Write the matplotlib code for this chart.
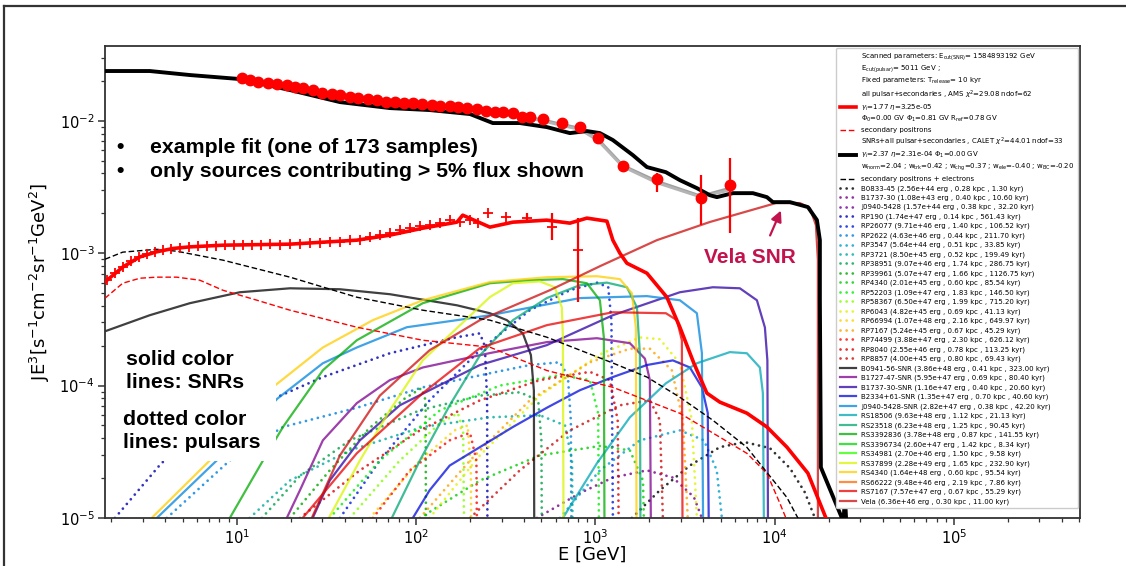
import numpy as np
import matplotlib
matplotlib.use("Agg")
import matplotlib.pyplot as plt
from matplotlib.lines import Line2D
from matplotlib.patches import Rectangle

# ---------------- data ----------------
# total e+ + e- data (red circles)
tot_E = [10.7, 11.8, 13.1, 14.9, 16.7, 19.0, 21.1, 23.3, 26.5, 29.8, 33.9, 37.6, 42.7, 47.3, 53.8,
         60.4, 67.8, 76.2, 85.5, 96, 108, 122, 136, 154, 171, 192, 218, 245, 275, 305, 347, 389,
         432, 509, 650, 820, 1033, 1422, 2203, 3882, 5623]
tot_F = [0.0210, 0.0203, 0.0196, 0.0193, 0.0189, 0.0186, 0.0180, 0.0177, 0.0171, 0.0162, 0.0159,
         0.0156, 0.0151, 0.0149, 0.0146, 0.0143, 0.0138, 0.0138, 0.0136, 0.0136, 0.0134, 0.0131,
         0.0129, 0.0129, 0.0127, 0.0125, 0.0122, 0.0118, 0.0116, 0.0116, 0.0114, 0.0107, 0.0107,
         0.0103, 0.0096, 0.0090, 0.0074, 0.00455, 0.00362, 0.00261, 0.00327]
tot_err_lo = [0] * 36 + [0.0004, 0.00043, 0.00073, 0.00098, 0.00185]
tot_err_hi = [0] * 36 + [0.0004, 0.00035, 0.00041, 0.00128, 0.00195]

# positron data (red plus markers)
pos_E = [1.88, 2.08, 2.31, 2.56, 2.84, 3.15, 3.49, 3.87, 4.28, 4.81, 5.40, 6.06, 6.80, 7.64, 8.58,
         9.62, 10.8, 12.1, 13.6, 15.3, 17.4, 19.8, 22.5, 25.5, 29.0, 33.0, 37.6, 42.7, 48.6, 55.2,
         62.8, 71.4, 81.2, 92.3, 105, 119, 136, 154, 175, 200, 221, 251, 317, 415, 572, 798]
pos_F = [6.25e-4, 7.06e-4, 7.84e-4, 8.70e-4, 9.33e-4, 9.83e-4, 1.018e-3, 1.054e-3, 1.08e-3, 1.10e-3,
         1.11e-3, 1.13e-3, 1.13e-3, 1.14e-3, 1.15e-3, 1.15e-3, 1.15e-3, 1.16e-3, 1.15e-3, 1.17e-3,
         1.16e-3, 1.17e-3, 1.18e-3, 1.19e-3, 1.19e-3, 1.21e-3, 1.22e-3, 1.25e-3, 1.26e-3, 1.32e-3,
         1.37e-3, 1.42e-3, 1.49e-3, 1.54e-3, 1.60e-3, 1.63e-3, 1.69e-3, 1.78e-3, 1.71e-3, 1.78e-3,
         1.69e-3, 2.0e-3, 1.87e-3, 1.84e-3, 1.57e-3, 1.05e-3]
pos_err_lo = [0] * 43 + [0.00015, 0.00032, 0.00062]
pos_err_hi = [0] * 43 + [0.00016, 0.00043, 0.00079]

# model: all pulsars + secondaries (red thick)
pmod_E = [1.84, 2.32, 2.88, 3.56, 4.42, 5.47, 8.36, 19.8, 46.7, 71.4, 109, 169, 182, 258, 347, 536,
          721, 897, 1160, 1252, 1370, 1499, 1939, 2506, 2961, 3544, 4188, 4949, 7002, 9054, 11705,
          15330, 19560]
pmod_F = [6.07e-4, 7.88e-4, 9.37e-4, 1.023e-3, 1.086e-3, 1.116e-3, 1.149e-3, 1.17e-3, 1.254e-3,
          1.368e-3, 1.545e-3, 1.715e-3, 1.937e-3, 1.573e-3, 1.715e-3, 1.776e-3, 1.686e-3, 1.840e-3,
          1.745e-3, 1.254e-3, 1.0e-3, 8.40e-4, 7.06e-4, 4.65e-4, 2.76e-4, 1.475e-4, 8.77e-5,
          7.50e-5, 6.19e-5, 4.87e-5, 3.43e-5, 2.18e-5, 9.6e-6]

# secondary positrons (red dashed)
secp_E = [1.84, 2.31, 2.88, 3.57, 4.62, 6.22, 8.36, 12.9, 19.8, 46.7, 109, 258, 536, 1253, 2958,
          7000, 9060, 10700, 11700, 13000]
secp_F = [4.57e-4, 5.93e-4, 6.47e-4, 6.59e-4, 6.59e-4, 6.25e-4, 5.25e-4, 4.42e-4, 3.71e-4, 2.76e-4,
          2.20e-4, 1.95e-4, 1.30e-4, 9.7e-5, 6.18e-5, 3.08e-5, 2.17e-5, 1.29e-5, 9.6e-6, 6e-6]

# secondary positrons + electrons (black dashed)
sece_E = [1.84, 2.31, 3.57, 4.62, 8.36, 19.8, 46.7, 109, 258, 536, 1253, 1939, 2958, 4524, 7000,
          11700, 13700, 15000]
sece_F = [9.0e-4, 1.018e-3, 1.07e-3, 1.035e-3, 8.86e-4, 6.59e-4, 4.65e-4, 3.71e-4, 3.12e-4,
          2.32e-4, 1.48e-4, 1.16e-4, 8.17e-5, 5.47e-5, 3.42e-5, 1.43e-5, 9.6e-6, 7e-6]

# model: SNRs + all pulsars + secondaries (black thick)
tmod_E = [1.84, 3.27, 5.47, 10.4, 19.8, 37.6, 71.4, 119, 200, 268, 379, 536, 721, 897, 1060, 1252,
          1619, 1939, 2474, 2961, 3683, 4352, 4763, 5850, 7560, 9054, 9777, 12165, 15330, 17210,
          17880, 17880, 18110, 23730, 24040, 24650, 25300]
tmod_F = [0.02375, 0.02375, 0.02215, 0.02066, 0.01706, 0.01384, 0.01247, 0.01205, 0.01124, 0.00961,
          0.00961, 0.00896, 0.00807, 0.00836, 0.00807, 0.00715, 0.00550, 0.00447, 0.00409, 0.00356,
          0.00310, 0.00274, 0.00265, 0.00284, 0.00284, 0.00265, 0.00243, 0.00243, 0.00223, 0.00178,
          0.001254, 4.41e-4, 2.41e-5, 1e-5, 7.4e-6, 1.49e-5, 7.4e-6]

# grey model band at the data points
band_E = [200, 300, 430, 520, 650, 820, 1033, 1422, 2203, 3882, 5623]
band1_F = [0.0122, 0.0114, 0.0106, 0.0101, 0.0094, 0.0088, 0.0073, 0.0046, 0.0035, 0.0027, 0.0031]
band2_F = [0.0120, 0.0112, 0.0104, 0.0099, 0.0092, 0.0086, 0.0071, 0.0045, 0.0034, 0.00265, 0.0030]

# ---- pulsars (dotted) ----
psr_names = ["B0833-45", "B1737-30", "J0940-5428", "RP190", "RP26077", "RP2622", "RP3547", "RP3721",
             "RP38951", "RP39961", "RP4340", "RP52203", "RP58367", "RP6043", "RP66994", "RP7167",
             "RP74499", "RP8040", "RP8857"]
psr_energy = [2.56e44, 1.08e43, 1.57e44, 1.74e47, 9.71e46, 4.63e46, 5.64e44, 8.50e45, 9.07e46,
              5.07e47, 2.01e45, 1.09e47, 6.50e47, 4.82e45, 1.07e48, 5.24e45, 3.88e47, 2.55e46, 4.00e45]
psr_dist = [0.28, 0.40, 0.38, 0.14, 1.40, 0.44, 0.51, 0.52, 1.74, 1.66, 0.60, 1.83, 1.99, 0.69, 2.16,
            0.67, 2.30, 0.78, 0.80]
psr_age = [1.30, 10.60, 32.20, 561.43, 106.52, 211.70, 33.85, 199.49, 286.75, 1126.75, 85.54, 146.50,
           715.20, 41.13, 649.97, 45.29, 626.12, 113.25, 69.43]

B0833_E = [1598, 2290, 3367, 4949, 6822, 9408, 12165, 14750, 16770, 17430]
B0833_F = [1.0e-5, 1.62e-5, 2.49e-5, 3.43e-5, 3.74e-5, 3.37e-5, 2.38e-5, 1.56e-5, 1.0e-5, 6.8e-6]
B1737p_E = [472, 819, 1252, 1939, 2706, 3544, 3929, 4188]
B1737p_F = [1.0e-5, 1.54e-5, 2.02e-5, 2.29e-5, 2.02e-5, 1.44e-5, 1.0e-5, 7.4e-6]
J0940p_E = []
J0940p_F = []
RP190_E = [2.09, 3.82, 16.7, 30.2, 71.4, 169, 227, 242, 249, 251]
RP190_F = [1.0e-5, 2.62e-5, 8.16e-5, 1.16e-4, 1.755e-4, 2.32e-4, 2.48e-4, 1.98e-4, 7.7e-5, 1e-6]
RP26077_E = [37.6, 62.8, 119, 227, 431, 721, 1020, 1180, 1229, 1268]
RP26077_F = [1.0e-5, 2.72e-5, 7.74e-5, 1.85e-4, 3.71e-4, 5.25e-4, 5.99e-4, 5.53e-4, 3.12e-4, 1e-6]
RP2622_E = [4.07, 9.14, 18.1, 46.7, 109, 258, 431, 634, 702, 730, 740]
RP2622_F = [1.0e-5, 2.72e-5, 4.87e-5, 6.8e-5, 9.7e-5, 1.239e-4, 1.43e-4, 1.50e-4, 1.19e-4, 5.47e-5, 1e-6]
RP3547_E = [634, 1060, 1771, 2961, 4035, 4755, 5079, 5143]
RP3547_F = [1.0e-5, 2.29e-5, 3.86e-5, 4.59e-5, 3.86e-5, 2.29e-5, 1.0e-5, 1e-6]
RP3721_E = [11.8, 19.8, 42.7, 109, 258, 490, 677, 741, 755]
RP3721_F = [1.0e-5, 1.92e-5, 3.24e-5, 4.87e-5, 5.76e-5, 5.97e-5, 5.0e-5, 2.72e-5, 1e-6]
RP38951_E = [13.8, 22.5, 42.7, 105, 227, 379, 480, 500, 507]
RP38951_F = [1.0e-5, 2.08e-5, 3.86e-5, 6.51e-5, 8.4e-5, 8.9e-5, 7.74e-5, 3.86e-5, 1e-6]
RP39961_E = [19.8, 33.0, 55.2, 86.6, 107, 113, 114]
RP39961_F = [1.0e-5, 2.29e-5, 4.8e-5, 8.0e-5, 9.55e-5, 7.74e-5, 1e-6]
RP4340_E = [105, 227, 490, 1060, 1558, 1843, 1939]
RP4340_F = [1.0e-5, 1.92e-5, 2.97e-5, 3.5e-5, 3.24e-5, 1.92e-5, 1e-6]
RP52203_E = [33.0, 62.8, 136, 293, 634, 932, 1036, 1060]
RP52203_F = [1.0e-5, 2.72e-5, 6.51e-5, 1.0e-4, 1.2e-4, 1.1e-4, 6.19e-5, 1e-6]
RP58367_E = [42.7, 81.2, 136, 171, 183, 188]
RP58367_F = [1.0e-5, 2.72e-5, 5.2e-5, 6.19e-5, 4.59e-5, 1e-6]
RP6043_E = [119, 227, 490, 1060, 1771, 2290, 2961, 3454, 3683, 3724]
RP6043_F = [1.0e-5, 2.97e-5, 8.4e-5, 1.72e-4, 2.31e-4, 2.24e-4, 1.47e-4, 5.47e-5, 1.0e-5, 1e-6]
RP66994_E = [55.2, 105, 164, 194, 202, 205]
RP66994_F = [1.0e-5, 2.72e-5, 4.59e-5, 5.0e-5, 2.29e-5, 1e-6]
RP7167p_E = [105, 200, 431, 932, 1558, 2014, 2670, 3079, 3276, 3320]
RP7167p_F = [1.0e-5, 2.72e-5, 7.74e-5, 1.5e-4, 1.9e-4, 1.9e-4, 1.305e-4, 5.47e-5, 1.0e-5, 1e-6]
RP74499_E = [57.4, 92.3, 154, 200, 217, 221]
RP74499_F = [1.0e-5, 2.29e-5, 3.86e-5, 4.4e-5, 2.72e-5, 1e-6]
RP8040_E = [22.5, 48.6, 105, 227, 490, 932, 1205, 1332, 1370]
RP8040_F = [1.0e-5, 2.29e-5, 4.59e-5, 7.74e-5, 1.1e-4, 1.27e-4, 1.1e-4, 5.47e-5, 1e-6]
RP8857_E = [200, 379, 721, 1370, 2014, 2290, 2380, 2408]
RP8857_F = [1.0e-5, 2.29e-5, 4.59e-5, 7.1e-5, 7.74e-5, 5.47e-5, 1.0e-5, 1e-6]

# ---- SNRs (solid) ----
snr_names = ["B0941-56-SNR", "B1727-47-SNR", "B1737-30-SNR", "B2334+61-SNR", "J0940-5428-SNR",
             "RS18506", "RS23518", "RS3392836", "RS3396734", "RS34981", "RS37899", "RS4340",
             "RS66222", "RS7167", "Vela"]
snr_energy = [3.86e48, 5.95e47, 1.16e47, 1.35e47, 2.82e47, 9.63e48, 6.23e48, 3.78e48, 2.60e47,
              2.70e46, 2.28e49, 1.64e48, 9.48e46, 7.57e47, 6.36e46]
snr_dist = [0.41, 0.69, 0.40, 0.70, 0.38, 1.12, 1.25, 0.87, 1.42, 1.50, 1.65, 0.60, 2.19, 0.67, 0.30]
snr_age = [323.00, 80.40, 20.60, 40.60, 42.20, 21.13, 90.45, 141.55, 8.34, 9.58, 232.90, 95.54,
           7.86, 55.29, 11.00]

B0941_E = [1.84, 3.27, 5.47, 10.4, 19.8, 37.6, 71.4, 169, 258, 321, 394, 437, 454, 458]
B0941_F = [2.57e-4, 3.40e-4, 4.19e-4, 5.07e-4, 5.43e-4, 5.34e-4, 4.90e-4, 4.04e-4, 3.52e-4, 3.12e-4,
           2.48e-4, 1.70e-4, 9.2e-5, 1e-6]
B1727_E = [19.0, 22.5, 30.2, 46.7, 71.4, 109, 258, 536, 1020, 1558, 1889, 2014, 2063]
B1727_F = [1.0e-5, 1.62e-5, 3.86e-5, 7.37e-5, 1.10e-4, 1.37e-4, 1.76e-4, 2.13e-4, 2.28e-4, 2.09e-4,
           1.60e-4, 1.10e-4, 1e-6]
B1737s_E = [26.5, 33.0, 48.6, 81.2, 154, 227, 536, 1252, 2961, 4524, 6398, 7962, 8824, 9110, 9233]
B1737s_F = [1.0e-5, 1.92e-5, 3.86e-5, 7.1e-5, 1.10e-4, 1.43e-4, 2.02e-4, 3.40e-4, 5.07e-4, 5.53e-4,
            5.43e-4, 4.41e-4, 2.75e-4, 1.55e-4, 1e-6]
B2334_E = [95.9, 119, 154, 227, 347, 536, 819, 1252, 1939, 2706, 3367, 3929, 4237, 4352]
B2334_F = [1.0e-5, 1.62e-5, 2.49e-5, 3.43e-5, 4.87e-5, 6.8e-5, 9.22e-5, 1.16e-4, 1.43e-4, 1.55e-4,
           1.37e-4, 9.7e-5, 6.2e-5, 1e-6]
J0940s_E = [3.58, 7.73, 16.9, 30.2, 46.7, 88.8, 169, 258, 819, 1939, 2961, 3683, 3929, 4035]
J0940s_F = [1.0e-5, 2.72e-5, 8.0e-5, 1.475e-4, 1.94e-4, 2.76e-4, 3.12e-4, 3.40e-4, 4.58e-4, 4.74e-4,
            4.41e-4, 3.52e-4, 1.76e-4, 1e-6]
RS18506_E = [659, 1020, 1558, 2474, 3683, 5627, 7002, 8272, 8598, 8824]
RS18506_F = [1.0e-5, 2.59e-5, 5.76e-5, 1.04e-4, 1.475e-4, 1.79e-4, 1.755e-4, 1.37e-4, 8.77e-5, 1e-6]
RS23518_E = [73.2, 105, 154, 227, 347, 536, 819, 1160, 1499, 1706, 1771, 1794]
RS23518_F = [1.0e-5, 2.72e-5, 7.1e-5, 1.69e-4, 3.12e-4, 4.58e-4, 5.73e-4, 5.99e-4, 5.53e-4, 3.90e-4,
             1.755e-4, 1e-6]
RS3392836_E = [9.14, 14.0, 18.1, 30.2, 46.7, 109, 258, 431, 659, 897, 1060, 1115, 1130]
RS3392836_F = [1.0e-5, 2.72e-5, 4.87e-5, 1.305e-4, 2.20e-4, 4.19e-4, 5.93e-4, 6.25e-4, 6.37e-4,
               5.93e-4, 4.41e-4, 2.32e-4, 1e-6]
RS3396734_E = []
RS3396734_F = []
RS34981_E = []
RS34981_F = []
RS37899_E = [32.2, 48.6, 71.4, 109, 258, 347, 490, 594, 650, 659, 668]
RS37899_F = [9.7e-6, 2.72e-5, 6.51e-5, 1.553e-4, 4.66e-4, 5.93e-4, 6.12e-4, 5.53e-4, 3.90e-4,
             2.32e-4, 1e-6]
RS4340_E = [3.40, 7.07, 16.3, 30.2, 57.4, 109, 258, 536, 1020, 1370, 1598, 1683, 1706]
RS4340_F = [1.02e-5, 2.72e-5, 1.0e-4, 1.94e-4, 3.12e-4, 4.41e-4, 6.05e-4, 6.58e-4, 6.70e-4, 6.37e-4,
            4.98e-4, 2.75e-4, 1e-6]
RS66222_E = []
RS66222_F = []
RS7167s_E = [23.3, 46.7, 109, 227, 536, 1252, 2474, 2849, 3038, 3079]
RS7167s_F = [1.0e-5, 3.08e-5, 8.77e-5, 1.92e-4, 2.86e-4, 3.58e-4, 3.52e-4, 3.12e-4, 2.20e-4, 1e-6]
Vela_E = [26.2, 37.6, 62.8, 119, 227, 557, 1060, 2203, 4352, 10163, 13834, 15730, 16990, 17430, 17430]
Vela_F = [1.0e-5, 2.97e-5, 8.4e-5, 1.85e-4, 3.12e-4, 5.25e-4, 7.97e-4, 1.254e-3, 1.72e-3, 2.39e-3,
          2.39e-3, 2.19e-3, 1.63e-3, 8.85e-4, 1e-6]

psr_curves = [(B0833_E, B0833_F), (B1737p_E, B1737p_F), (J0940p_E, J0940p_F), (RP190_E, RP190_F),
              (RP26077_E, RP26077_F), (RP2622_E, RP2622_F), (RP3547_E, RP3547_F),
              (RP3721_E, RP3721_F), (RP38951_E, RP38951_F), (RP39961_E, RP39961_F),
              (RP4340_E, RP4340_F), (RP52203_E, RP52203_F), (RP58367_E, RP58367_F),
              (RP6043_E, RP6043_F), (RP66994_E, RP66994_F), (RP7167p_E, RP7167p_F),
              (RP74499_E, RP74499_F), (RP8040_E, RP8040_F), (RP8857_E, RP8857_F)]
snr_curves = [(B0941_E, B0941_F), (B1727_E, B1727_F), (B1737s_E, B1737s_F), (B2334_E, B2334_F),
              (J0940s_E, J0940s_F), (RS18506_E, RS18506_F), (RS23518_E, RS23518_F),
              (RS3392836_E, RS3392836_F), (RS3396734_E, RS3396734_F), (RS34981_E, RS34981_F),
              (RS37899_E, RS37899_F), (RS4340_E, RS4340_F), (RS66222_E, RS66222_F),
              (RS7167s_E, RS7167s_F), (Vela_E, Vela_F)]

# ---------------- figure ----------------
W, H = 1126, 566
fig = plt.figure(figsize=(W / 100, H / 100), dpi=100)
ax = fig.add_axes([105 / W, 1 - 518 / H, (1080 - 105) / W, (518 - 46) / H])
ax.set_xscale('log')
ax.set_yscale('log')
ax.set_xlim(1.84, 5.05e5)
ax.set_ylim(1e-5, 3.67e-2)

cmap = plt.get_cmap('nipy_spectral')
psr_cols = cmap(np.linspace(0, 0.95, len(psr_names)))
snr_cols = cmap(np.linspace(0, 0.95, len(snr_names)))

psr_handles = []
for (E, F), c in zip(psr_curves, psr_cols):
    ln, = ax.plot(E, F, ls=(0, (0.01, 2.2)), lw=2.0, dash_capstyle='round', color=c,
                  alpha=0.8, zorder=2)
    psr_handles.append(ln)

snr_handles = []
for (E, F), c in zip(snr_curves, snr_cols):
    ln, = ax.plot(E, F, ls='-', lw=1.6, color=c, alpha=0.75, zorder=2)
    snr_handles.append(ln)

h_secp, = ax.plot(secp_E, secp_F, ls=(0, (4, 2)), lw=1.0, color='red', zorder=3)
h_sece, = ax.plot(sece_E, sece_F, ls=(0, (4, 2)), lw=1.0, color='black', zorder=3)
h_red, = ax.plot(pmod_E, pmod_F, '-', lw=2.6, color='red', zorder=4)
ax.plot(band_E, band1_F, '-', lw=2.0, color='#a0a0a0', zorder=4)
ax.plot(band_E, band2_F, '-', lw=2.0, color='#b4b4b4', zorder=4)
h_black, = ax.plot(tmod_E, tmod_F, '-', lw=2.8, color='black', zorder=5)

ax.errorbar(tot_E, tot_F, yerr=[tot_err_lo, tot_err_hi], fmt='o', color='red', ms=7.5,
            elinewidth=1.6, capsize=0, zorder=6)
ax.errorbar(pos_E, pos_F, yerr=[pos_err_lo, pos_err_hi], fmt='+', color='red', ms=7, mew=1.3,
            elinewidth=1.6, capsize=0, zorder=6)

# axes styling
for s in ax.spines.values():
    s.set_color('#333333')
    s.set_linewidth(1.3)
ax.tick_params(which='both', direction='out', colors='#333333', labelcolor='black')
ax.tick_params(which='major', length=5, width=1.1, labelsize=10.5, pad=2.5)
ax.tick_params(which='minor', length=3, width=0.9)
ax.set_xlabel('E [GeV]', fontsize=13, labelpad=-1)
ax.set_ylabel(r'JE$^3$[s$^{-1}$cm$^{-2}$sr$^{-1}$GeV$^2$]', fontsize=13, labelpad=5)

# legend
hdr = Line2D([], [], color='none')
hdr_lab = ("Scanned parameters: E$_{\\rm cut(SNR)}$= 1584893192 GeV\n"
           "E$_{\\rm cut(pulsar)}$= 5011 GeV ;\n"
           "Fixed parameters: T$_{\\rm release}$= 10 kyr")
red_lab = ("all pulsar+secondaries , AMS $\\chi^2$=29.08 ndof=62\n"
           "$\\gamma_i$=1.77 $\\eta$=3.25e-05\n"
           "$\\Phi_0$=0.00 GV $\\Phi_1$=0.81 GV R$_{\\rm ref}$=0.78 GV")
blk_lab = ("SNRs+all pulsar+secondaries , CALET $\\chi^2$=44.01 ndof=33\n"
           "$\\gamma_i$=2.37 $\\eta$=2.31e-04 $\\Phi_1$=0.00 GV\n"
           "w$_{\\rm norm}$=2.04 ; w$_{\\rm trk}$=0.42 ; w$_{\\rm chg}$=0.37 ; "
           "w$_{\\rm ele}$=-0.40 ; w$_{\\rm BC}$=-0.20")
psr_labs = [f"{n} ({e:.2e} erg , {d:.2f} kpc , {t:.2f} kyr)"
            for n, e, d, t in zip(psr_names, psr_energy, psr_dist, psr_age)]
snr_labs = [f"{n} ({e:.2e} erg , {d:.2f} kpc , {t:.2f} kyr)"
            for n, e, d, t in zip(snr_names, snr_energy, snr_dist, snr_age)]
leg_h = [hdr, h_red, h_secp, h_black, h_sece] + psr_handles + snr_handles
leg_l = [hdr_lab, red_lab, "secondary positrons", blk_lab, "secondary positrons + electrons"] \
    + psr_labs + snr_labs
leg = ax.legend(leg_h, leg_l, loc='upper right', bbox_to_anchor=(1, 1), borderaxespad=0.25,
                fontsize=5, labelspacing=0.43, handlelength=2.4, handletextpad=0.7,
                borderpad=0.5, framealpha=1, edgecolor='#cccccc', fancybox=True)
leg.set_zorder(8)

# white box behind the explanatory text
def fx(x):
    return x / W

def fy(y):
    return 1 - y / H

fig.add_artist(Rectangle((fx(109), fy(461)), (276 - 109) / W, (461 - 338) / H,
                         transform=fig.transFigure, facecolor='white', edgecolor='none', zorder=9))

bold = dict(family='Liberation Sans', weight='bold', fontsize=15.3, zorder=10)
fig.text(fx(116), fy(153), '•', **bold)
fig.text(fx(150), fy(153), 'example fit (one of 173 samples)', **bold)
fig.text(fx(116), fy(177), '•', **bold)
fig.text(fx(150), fy(177), 'only sources contributing > 5% flux shown', **bold)
fig.text(fx(126), fy(365), 'solid color', **bold)
fig.text(fx(126), fy(388), 'lines: SNRs', **bold)
fig.text(fx(123), fy(425), 'dotted color', **bold)
fig.text(fx(123), fy(448), 'lines: pulsars', **bold)

vela_col = '#c2134f'
fig.text(fx(704), fy(263), 'Vela SNR', family='Liberation Sans', weight='bold', fontsize=15,
         color=vela_col, zorder=10)
ax.annotate('', xy=(782, H - 208), xycoords='figure pixels', xytext=(769, H - 238),
            textcoords='figure pixels',
            arrowprops=dict(arrowstyle='-|>', color=vela_col, lw=1.6, mutation_scale=16),
            zorder=10)

# slide frame (top and left edge)
fig.add_artist(Line2D([fx(4), 1], [fy(6), fy(6)], transform=fig.transFigure, color='#333333', lw=1.6))
fig.add_artist(Line2D([fx(4), fx(4)], [fy(6), 0], transform=fig.transFigure, color='#333333', lw=1.6))

fig.savefig('out.png', dpi=100)
